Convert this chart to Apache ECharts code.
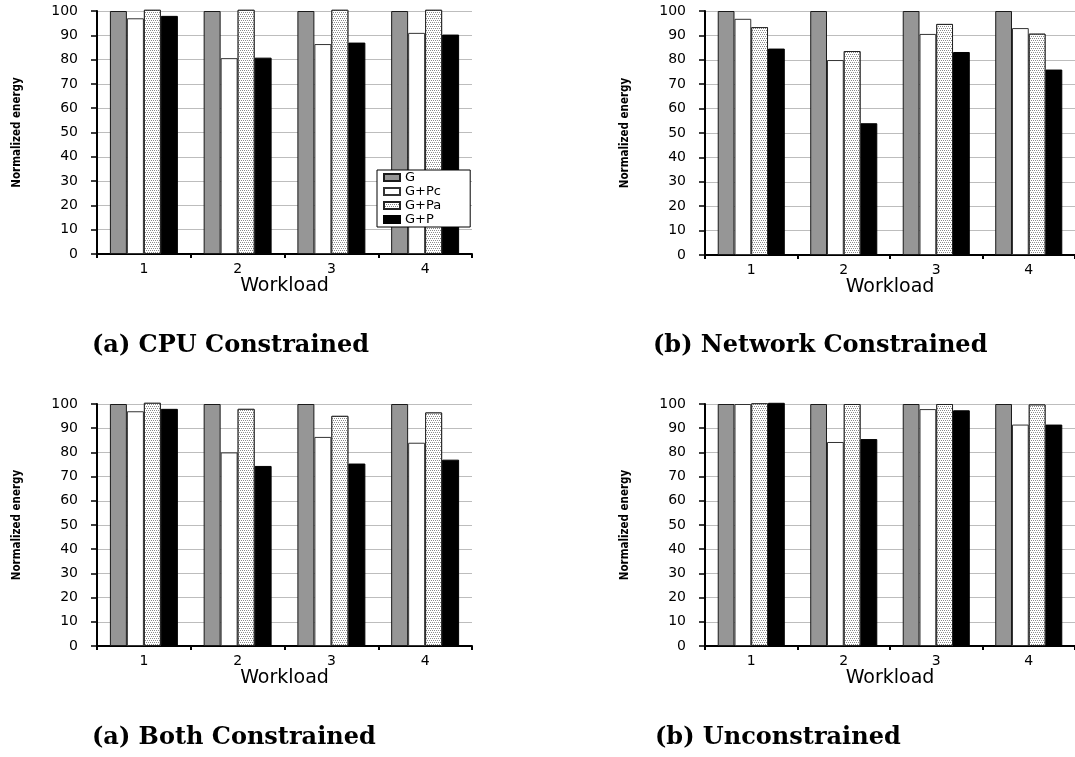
<!DOCTYPE html>
<html>
<head>
<meta charset="utf-8">
<script src="https://cdn.jsdelivr.net/npm/echarts@6/dist/echarts.min.js"></script>
<style>
  html, body { margin: 0; padding: 0; background: #fff; }
  #chart { width: 1075px; height: 757px; }
</style>
</head>
<body>
<div id="chart"></div>
<script>
// ---- Data ----
const categories = ['1', '2', '3', '4'];
const seriesNames = ['G', 'G+Pc', 'G+Pa', 'G+P'];
const yTickValues = [0, 10, 20, 30, 40, 50, 60, 70, 80, 90, 100];

const cpuG  = [100, 100, 100, 100];
const cpuPc = [97, 80.6, 86.4, 91];
const cpuPa = [100.5, 100.5, 100.5, 100.5];
const cpuP  = [98, 80.8, 87, 90.3];

const netG  = [100, 100, 100, 100];
const netPc = [96.8, 79.9, 90.6, 93];
const netPa = [93.4, 83.6, 94.7, 90.7];
const netP  = [84.6, 54, 83.2, 76];

const bothG  = [100, 100, 100, 100];
const bothPc = [97, 80, 86.4, 84];
const bothPa = [100.5, 98, 95.1, 96.5];
const bothP  = [98, 74.4, 75.4, 77];

const unG  = [100, 100, 100, 100];
const unPc = [100, 84.3, 97.9, 91.5];
const unPa = [100.3, 100, 100, 99.8];
const unP  = [100.5, 85.5, 97.4, 91.5];

const captions = ['(a) CPU Constrained', '(b) Network Constrained', '(a) Both Constrained', '(b) Unconstrained'];
const yAxisTitle = 'Normalized energy';
const xAxisTitle = 'Workload';

// ---- Layout ----
const panels = [
  { data: [cpuG, cpuPc, cpuPa, cpuP],     grid: { left: 97,  top: 11,  width: 375, height: 243 }, cap: { left: 92,  top: 334 } },
  { data: [netG, netPc, netPa, netP],     grid: { left: 705, top: 11,  width: 375, height: 244 }, cap: { left: 653, top: 334 } },
  { data: [bothG, bothPc, bothPa, bothP], grid: { left: 97,  top: 404, width: 375, height: 242 }, cap: { left: 92,  top: 726 } },
  { data: [unG, unPc, unPa, unP],         grid: { left: 705, top: 404, width: 375, height: 242 }, cap: { left: 655, top: 726 } }
];

const patternDecal = {
  symbol: 'rect',
  symbolSize: 1,
  dashArrayX: [[1, 1], [0, 1, 1, 0]],
  dashArrayY: [1, 1],
  color: '#8a8a8a',
  backgroundColor: '#ffffff',
  rotation: 0
};

const styles = [
  { color: '#969696', borderColor: '#1a1a1a', borderWidth: 1 },
  { color: '#ffffff', borderColor: '#333333', borderWidth: 1 },
  { color: '#ffffff', borderColor: '#222222', borderWidth: 1, decal: patternDecal },
  { color: '#000000', borderColor: '#000000', borderWidth: 1 }
];

const labelFont = 'DejaVu Sans, Liberation Sans, sans-serif';

const option = {
  backgroundColor: '#ffffff',
  animation: false,
  title: panels.map((p, i) => ({
    text: captions[i],
    left: p.cap.left,
    top: p.cap.top,
    padding: 0,
    textStyle: { fontFamily: 'DejaVu Serif, Liberation Serif, serif', fontWeight: 'bold', fontSize: 24, color: '#000' }
  })),
  legend: {
    data: seriesNames,
    orient: 'vertical',
    left: 377,
    top: 170,
    itemWidth: 16,
    itemHeight: 7,
    itemGap: 1,
    padding: [1, 29, 1, 6],
    backgroundColor: '#ffffff',
    borderColor: '#000000',
    borderWidth: 1,
    borderRadius: 0,
    icon: 'rect',
    z: 10,
    textStyle: { fontFamily: labelFont, fontSize: 13, lineHeight: 13, color: '#000' }
  },
  grid: panels.map(p => Object.assign({ containLabel: false }, p.grid)),
  xAxis: panels.map((p, i) => ({
    type: 'category',
    gridIndex: i,
    data: categories,
    boundaryGap: true,
    name: xAxisTitle,
    nameLocation: 'middle',
    nameGap: 6,
    nameTextStyle: { fontFamily: labelFont, fontSize: 19, color: '#000' },
    axisLine: { show: true, lineStyle: { color: '#000', width: 2 } },
    axisTick: { show: true, interval: 0, length: 4, lineStyle: { color: '#000', width: 2 } },
    axisLabel: { margin: 8, fontFamily: labelFont, fontSize: 14, color: '#000' },
    splitLine: { show: false }
  })),
  yAxis: panels.map((p, i) => ({
    type: 'value',
    gridIndex: i,
    min: 0,
    max: 100,
    interval: 10,
    name: yAxisTitle,
    nameLocation: 'middle',
    nameRotate: 90,
    nameGap: 74,
    nameTextStyle: { fontFamily: 'Liberation Sans Narrow, DejaVu Sans Condensed, Liberation Sans, sans-serif', fontSize: 11.5, fontWeight: 'bold', color: '#000' },
    axisLine: { show: true, lineStyle: { color: '#000', width: 2 } },
    axisTick: { show: true, length: 6, lineStyle: { color: '#000', width: 1.5 } },
    axisLabel: {
      margin: 19,
      fontFamily: labelFont,
      fontSize: 14,
      color: '#000',
      formatter: v => (yTickValues.indexOf(v) >= 0 ? String(v) : '')
    },
    splitLine: { show: true, lineStyle: { color: '#bdbdbd', width: 1 } }
  })),
  series: []
};

panels.forEach((p, i) => {
  seriesNames.forEach((name, k) => {
    option.series.push({
      type: 'bar',
      name: name,
      xAxisIndex: i,
      yAxisIndex: i,
      data: p.data[k],
      barGap: '0%',
      barCategoryGap: '27.5%',
      clip: false,
      itemStyle: styles[k],
      emphasis: { disabled: true }
    });
  });
});

const chart = echarts.init(document.getElementById('chart'), null, { renderer: 'canvas' });
chart.setOption(option);
</script>
</body>
</html>
